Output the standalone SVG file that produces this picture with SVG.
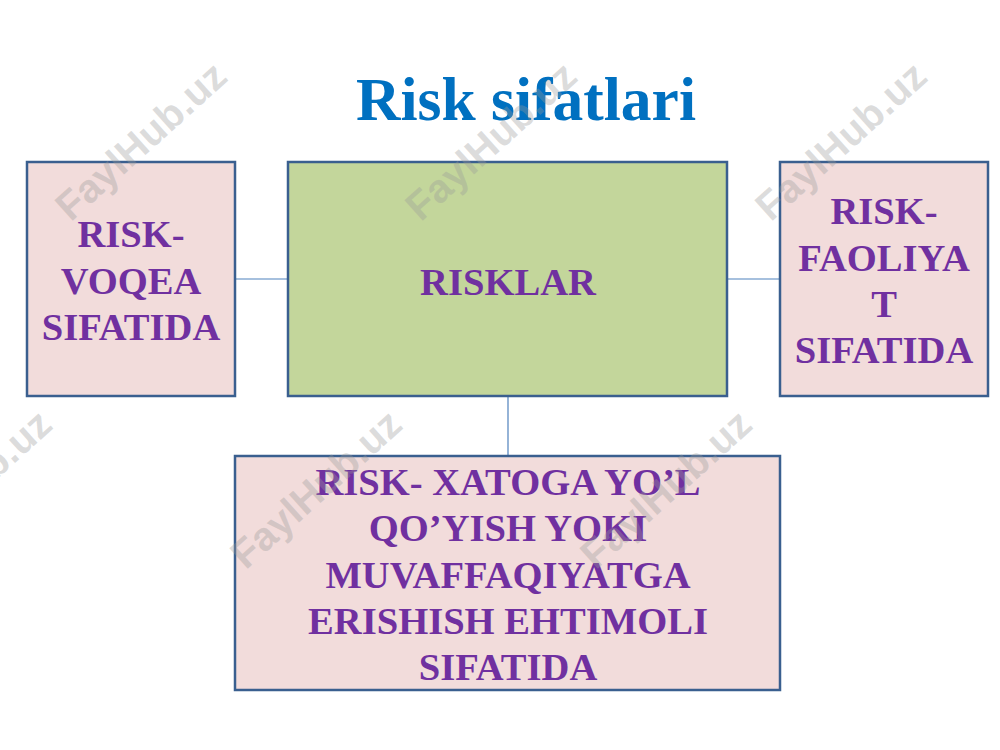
<svg xmlns="http://www.w3.org/2000/svg" width="1000" height="750" viewBox="0 0 1000 750">
<style>
.box{stroke:#3A5F8F;stroke-width:2.5}
.pink{fill:#F2DCDB}
.green{fill:#C3D69B}
.lbl{font-family:"Liberation Serif","Times New Roman",serif;font-weight:bold;font-size:38.6px;fill:#7030A0;text-anchor:middle}
.conn{stroke:#4F81BD;stroke-width:1.2;fill:none}
.wm{font-family:"Liberation Sans",Arial,sans-serif;font-weight:bold;font-size:40px;fill:#9a9a9a;fill-opacity:0.35;text-anchor:middle}
</style>
<rect width="1000" height="750" fill="#ffffff"/>
<text x="526" y="120" font-family="'Liberation Serif','Times New Roman',serif" font-weight="bold" font-size="61.5" fill="#0070C0" text-anchor="middle">Risk sifatlari</text>
<g id="connectors">
<line class="conn" x1="235" y1="279" x2="288" y2="279"/>
<line class="conn" x1="727" y1="279" x2="780" y2="279"/>
<line class="conn" x1="508" y1="396" x2="508" y2="456"/>
</g>
<g id="node-left">
<rect class="box pink" x="27" y="162" width="208" height="234"/>
<text class="lbl"><tspan x="131" y="247">RISK-</tspan><tspan x="131" y="294">VOQEA</tspan><tspan x="131" y="340">SIFATIDA</tspan></text>
</g>
<g id="node-center">
<rect class="box green" x="288" y="162" width="439" height="234"/>
<text class="lbl" x="508" y="295">RISKLAR</text>
</g>
<g id="node-right">
<rect class="box pink" x="780" y="162" width="208" height="234"/>
<text class="lbl"><tspan x="884" y="224">RISK-</tspan><tspan x="884" y="271">FAOLIYA</tspan><tspan x="884" y="317">T</tspan><tspan x="884" y="363">SIFATIDA</tspan></text>
</g>
<g id="node-bottom">
<rect class="box pink" x="235" y="456" width="545" height="234"/>
<text class="lbl"><tspan x="508" y="495">RISK- XATOGA YO’L</tspan><tspan x="508" y="541">QO’YISH YOKI</tspan><tspan x="508" y="588">MUVAFFAQIYATGA</tspan><tspan x="508" y="634">ERISHISH EHTIMOLI</tspan><tspan x="508" y="680">SIFATIDA</tspan></text>
</g>
<g id="watermarks">
<text class="wm" transform="translate(150,151) rotate(-42)">FaylHub.uz</text>
<text class="wm" transform="translate(500,151) rotate(-42)">FaylHub.uz</text>
<text class="wm" transform="translate(850,151) rotate(-42)">FaylHub.uz</text>
<text class="wm" transform="translate(-25,499) rotate(-42)">FaylHub.uz</text>
<text class="wm" transform="translate(325,499) rotate(-42)">FaylHub.uz</text>
<text class="wm" transform="translate(675,499) rotate(-42)">FaylHub.uz</text>
</g>
</svg>
